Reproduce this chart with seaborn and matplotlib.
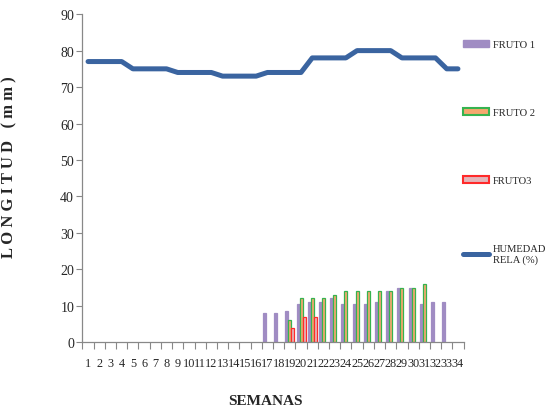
import numpy as np
import pandas as pd
import matplotlib
matplotlib.use("Agg")
import matplotlib.pyplot as plt
from matplotlib.patches import Patch
from matplotlib.lines import Line2D
import seaborn as sns

# semanas 1..34
semanas = list(range(1, 35))
humedad = [77, 77, 77, 77, 75, 75, 75, 75, 74, 74, 74, 74, 73, 73, 73, 73, 74,
           74, 74, 74, 78, 78, 78, 78, 80, 80, 80, 80, 78, 78, 78, 78, 75, 75]

fruto1_semanas = list(range(17, 34))
fruto1 = [8, 8, 8.5, 10.5, 11, 11, 12, 10.5, 10.5, 10.5, 11, 14, 15, 15, 10.5, 11, 11]

fruto2_semanas = list(range(19, 32))
fruto2 = [6, 12, 12, 12, 13, 14, 14, 14, 14, 14, 15, 15, 16]

fruto3_semanas = [19, 20, 21]
fruto3 = [4, 7, 7]

series = ["FRUTO 1", "FRUTO 2", "FRUTO3"]
fill_colors = ["#A08CC3", "#F5A86E", "#E2B6BA"]
edge_colors = ["#A08CC3", "#36B34F", "#FF2A2A"]
line_color = "#3A64A0"

bars = pd.concat([
    pd.DataFrame({"Semana": fruto1_semanas, "Longitud": fruto1, "Fruto": series[0]}),
    pd.DataFrame({"Semana": fruto2_semanas, "Longitud": fruto2, "Fruto": series[1]}),
    pd.DataFrame({"Semana": fruto3_semanas, "Longitud": fruto3, "Fruto": series[2]}),
])

sns.set_style("ticks")
plt.rcParams['font.family'] = ['Liberation Serif', 'DejaVu Serif']

fig = plt.figure(figsize=(5.46, 4.10), dpi=100)
ax = fig.add_axes([0.151, 0.163, 0.698, 0.800])

sns.barplot(data=bars, x="Semana", y="Longitud", hue="Fruto", order=semanas,
            hue_order=series, palette=fill_colors, saturation=1, width=0.8,
            errorbar=None, legend=False, ax=ax)
for cont, ec in zip(ax.containers, edge_colors):
    for bar in cont:
        bar.set_edgecolor(ec)
        bar.set_linewidth(0.9)

pos = [s - 1 for s in semanas]
sns.lineplot(x=pos, y=humedad, color=line_color, linewidth=3.6, legend=False, ax=ax)
ax.lines[-1].set_solid_joinstyle("round")

ax.set_xlim(-0.5, 33.5)
ax.set_ylim(0, 90)
ax.set_yticks(range(0, 91, 10))
ax.set_xticks(pos)
ax.set_xticklabels([str(s) for s in semanas])
ax.set_xticks(np.arange(-0.5, 34, 1), minor=True)
ax.tick_params(axis="x", which="major", length=0, pad=11, labelsize=8.8)
ax.tick_params(axis="x", which="minor", length=5, color="#888888", width=0.8, direction="out")
ax.tick_params(axis="y", length=4, color="#888888", width=0.8, labelsize=10, pad=2)

sns.despine(ax=ax)
for side in ["left", "bottom"]:
    ax.spines[side].set_color("#888888")
    ax.spines[side].set_linewidth(0.9)

ax.set_xlabel("SEMANAS", fontsize=11, fontweight="bold")
ax.set_ylabel("L O N G I T U D   ( m m )", fontsize=12, fontweight="bold")
ax.xaxis.set_label_coords(0.479, -0.157)
ax.yaxis.set_label_coords(-0.17, 0.537)

handles = [
    Patch(facecolor=fill_colors[0], edgecolor=edge_colors[0], linewidth=1),
    Patch(facecolor=fill_colors[1], edgecolor=edge_colors[1], linewidth=1.5),
    Patch(facecolor=fill_colors[2], edgecolor=edge_colors[2], linewidth=1.5),
    Line2D([], [], color=line_color, linewidth=3.6),
]
labels = series + ["HUMEDAD\nRELA (%)"]
fig.legend(handles, labels, loc="upper left", bbox_to_anchor=(463 / 546, 1 - 41 / 410),
           bbox_transform=fig.transFigure, frameon=False, fontsize=7.6,
           handlelength=2.5, handleheight=0.68, handletextpad=0.3,
           labelspacing=5.55, borderpad=0, borderaxespad=0)

fig.savefig("out.png", dpi=100)
